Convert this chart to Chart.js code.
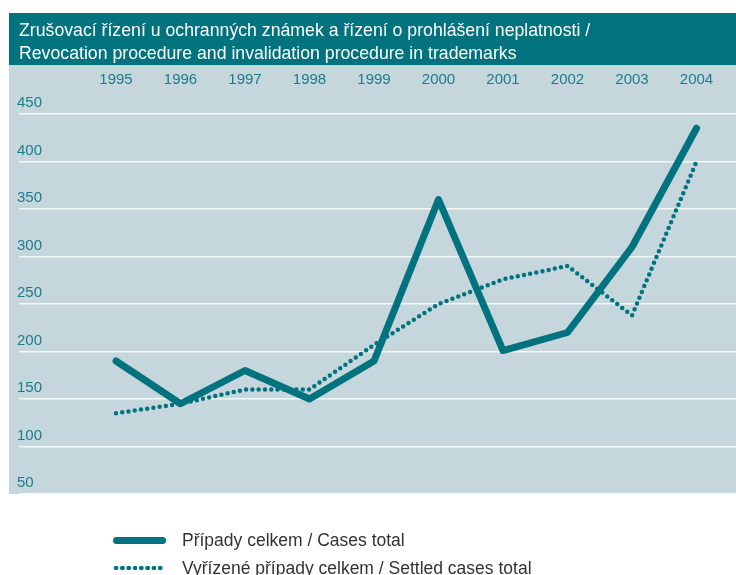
<!DOCTYPE html>
<html>
<head>
<meta charset="utf-8">
<script src="https://cdn.jsdelivr.net/npm/chart.js@4.4.1/dist/chart.umd.min.js"></script>
<style>
  html, body { margin: 0; padding: 0; background: #fff; }
  #wrap { position: relative; width: 736px; height: 575px; overflow: hidden; }
  #legend { position: absolute; left: 0; top: 0; width: 736px; font-family: "Liberation Sans", Arial, sans-serif; font-size: 17.5px; color: #333; }
  .item { position: absolute; left: 113px; height: 20px; display: flex; align-items: center; white-space: nowrap; }
  .swatch { width: 53px; height: 8px; margin-right: 16px; }
  .solid { background: #00737f; border-radius: 4px; height: 7px; }
  .dots { background: radial-gradient(circle, #00737f 2.1px, transparent 2.6px) 0 50% / 6.3px 6px repeat-x; height: 6px; width: 51px; margin-right: 18px; }
</style>
</head>
<body>
<div id="wrap">
  <canvas id="chart_trademarks" width="736" height="575"></canvas>
  <div id="legend"></div>
</div>
<script>
const years = [1995, 1996, 1997, 1998, 1999, 2000, 2001, 2002, 2003, 2004];
const casesTotal = [190, 145, 180, 150, 190, 360, 201, 220, 310, 435];
const settledTotal = [135, 145, 160, 160, 207, 250, 276, 290, 238, 400];
const yTicks = [50, 100, 150, 200, 250, 300, 350, 400, 450];
const seriesLabels = ["Případy celkem / Cases total", "Vyřízené případy celkem / Settled cases total"];
const titleLines = [
    "Zrušovací řízení u ochranných známek a řízení o prohlášení neplatnosti /",
    "Revocation procedure and invalidation procedure in trademarks",
];

const teal = "#00737f";
const tickColor = "#1a7d89";

// teal title bar + grey-blue panel behind the plot
const panelPlugin = {
    id: "panel",
    beforeDraw(chart) {
        const ctx = chart.ctx;
        const area = chart.chartArea;
        ctx.save();
        ctx.fillStyle = teal;
        ctx.fillRect(9, 13, 727, 52);
        ctx.fillStyle = "#c5d7dd";
        ctx.fillRect(9, 65, 727, area.bottom - 65);
        ctx.restore();
    },
};

const toPoints = (vals) => vals.map((v, i) => ({ x: years[i], y: v }));

const data = {
    datasets: [
        {
            label: seriesLabels[0],
            data: toPoints(casesTotal),
            borderColor: teal,
            borderWidth: 7,
            borderCapStyle: "round",
            borderJoinStyle: "round",
            pointRadius: 0,
            tension: 0,
        },
        {
            label: seriesLabels[1],
            data: toPoints(settledTotal),
            borderColor: teal,
            borderWidth: 4.5,
            borderDash: [0, 6.3],
            borderCapStyle: "round",
            borderJoinStyle: "round",
            pointRadius: 0,
            tension: 0,
        },
    ],
};

const config = {
    type: "line",
    data: data,
    plugins: [panelPlugin],
    options: {
        responsive: false,
        animation: false,
        layout: {
            padding: { left: 19, right: 0, top: 8, bottom: 81 },
        },
        plugins: {
            legend: { display: false },
            tooltip: { enabled: false },
            title: {
                display: true,
                text: titleLines,
                align: "start",
                color: "#ffffff",
                font: { family: "'Liberation Sans', Arial, sans-serif", size: 17.7, weight: "normal", lineHeight: "23.5px" },
                padding: { top: 11, bottom: 5 },
            },
        },
        scales: {
            x: {
                type: "linear",
                position: "top",
                min: 1993.496,
                max: 2004.612,
                afterBuildTicks: (axis) => {
                    axis.ticks = years.map((y) => ({ value: y }));
                },
                afterFit: (axis) => {
                    axis.height = 43;
                    axis.paddingLeft = 0;
                    axis.paddingRight = 0;
                },
                grid: { display: false, drawTicks: false },
                border: { display: false },
                ticks: {
                    color: tickColor,
                    font: { family: "'Liberation Sans', sans-serif", size: 15 },
                    padding: 25,
                    maxRotation: 0,
                    autoSkip: false,
                    callback: (v) => String(v),
                },
            },
            y: {
                min: 50,
                max: 450,
                afterBuildTicks: (axis) => {
                    axis.ticks = yTicks.map((v) => ({ value: v }));
                },
                afterFit: (axis) => {
                    axis.width = 0;
                },
                grid: { color: "#f4f8f9", lineWidth: 1.6, drawTicks: false },
                border: { display: false },
                ticks: {
                    mirror: true,
                    padding: -2,
                    labelOffset: -11,
                    color: tickColor,
                    font: { family: "'Liberation Sans', sans-serif", size: 15 },
                },
            },
        },
    },
};

const ctxTm = document.getElementById("chart_trademarks");
const tmChart = new Chart(ctxTm, config);

// legend below the panel
const legendEl = document.getElementById("legend");
const legendRows = [
    { cls: "solid", top: 530 },
    { cls: "dots", top: 558 },
];
seriesLabels.forEach((txt, i) => {
    const row = document.createElement("div");
    row.className = "item";
    row.style.top = legendRows[i].top + "px";
    const sw = document.createElement("span");
    sw.className = "swatch " + legendRows[i].cls;
    const label = document.createElement("span");
    label.textContent = txt;
    row.appendChild(sw);
    row.appendChild(label);
    legendEl.appendChild(row);
});
</script>
</body>
</html>
